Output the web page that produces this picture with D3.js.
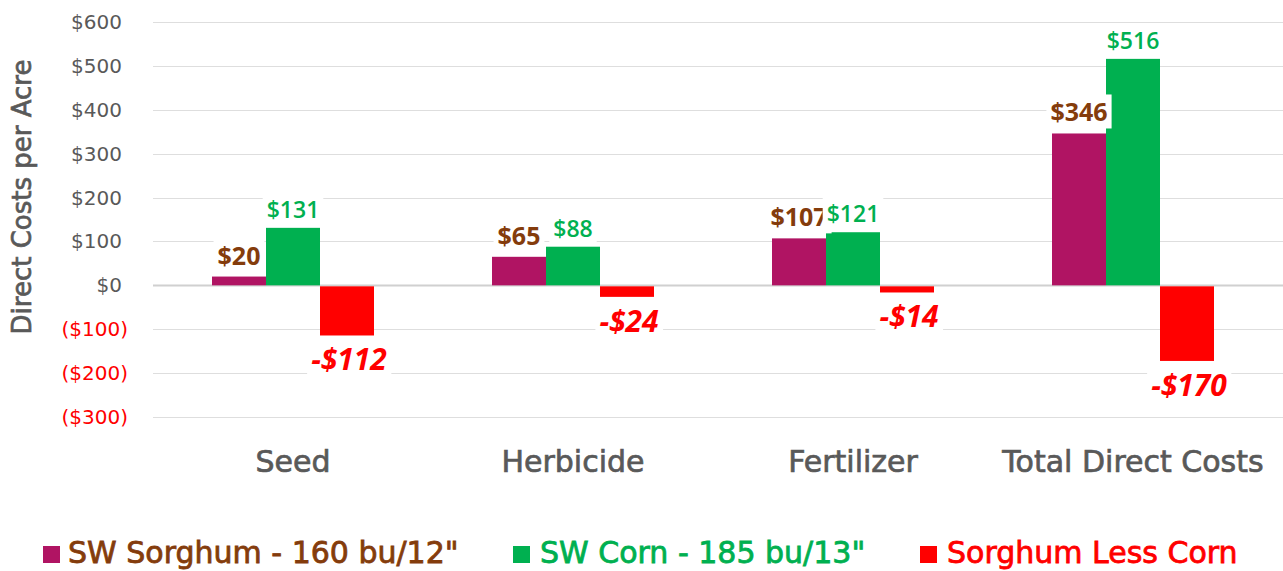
<!DOCTYPE html>
<html>
<head>
<meta charset="utf-8">
<script src="https://cdn.jsdelivr.net/npm/d3@7"></script>
<style>
  body { margin: 0; background: #fff; }
  svg { display: block; }
</style>
</head>
<body>
<svg id="chart" width="1283" height="571"></svg>
<script>
const categories = ["Seed", "Herbicide", "Fertilizer", "Total Direct Costs"];
const seriesNames = ["SW Sorghum - 160 bu/12\"", "SW Corn - 185 bu/13\"", "Sorghum Less Corn"];
const sorghum = [20, 65, 107, 346];
const corn = [131, 88, 121, 516];
const diff = [-112, -24, -14, -170];
const yTicks = [-300, -200, -100, 0, 100, 200, 300, 400, 500, 600];

const barColors = ["#B01463", "#00B050", "#FF0000"];
const labelColors = ["#843C0C", "#00B050", "#FF0000"];

const svg = d3.select("#chart");
const width = +svg.attr("width");

const y = d3.scaleLinear().domain([-300, 600]).range([417, 22]);
const x0 = d3.scaleBand().domain(categories).range([153, 1273]);
const gap = 59;
const x1 = d3.scaleBand().domain(d3.range(3)).range([gap, x0.bandwidth() - gap]);

// gridlines
svg.append("g")
  .selectAll("line")
  .data(yTicks)
  .join("line")
  .attr("x1", 153).attr("x2", width)
  .attr("y1", d => Math.round(y(d)) + 0.5).attr("y2", d => Math.round(y(d)) + 0.5)
  .attr("stroke", d => d === 0 ? "#d0d0d0" : "#dedede")
  .attr("stroke-width", d => d === 0 ? 2 : 1);

// y tick labels
svg.append("g")
  .selectAll("text")
  .data(yTicks)
  .join("text")
  .attr("x", d => d < 0 ? 128 : 122)
  .attr("y", d => y(d))
  .attr("dy", "0.35em")
  .attr("text-anchor", "end")
  .attr("font-family", "DejaVu Sans, sans-serif")
  .attr("font-size", 20)
  .attr("fill", d => d < 0 ? "#FF0000" : "#595959")
  .text(d => d < 0 ? `($${-d})` : `$${d}`);

// y axis title
svg.append("text")
  .attr("transform", `translate(31,197) rotate(-90)`)
  .attr("text-anchor", "middle")
  .attr("font-family", "DejaVu Sans, sans-serif")
  .attr("font-size", 26)
  .attr("fill", "#595959")
  .attr("stroke", "#595959")
  .attr("stroke-width", 0.7)
  .text("Direct Costs per Acre");

// bars
const rows = categories.map((c, i) => ({ cat: c, vals: [sorghum[i], corn[i], diff[i]] }));
const groups = svg.append("g")
  .selectAll("g")
  .data(rows)
  .join("g")
  .attr("transform", d => `translate(${x0(d.cat)},0)`);

groups.selectAll("rect")
  .data(d => d.vals.map((v, k) => ({ v, k })))
  .join("rect")
  .attr("x", d => x1(d.k))
  .attr("width", x1.bandwidth())
  .attr("y", d => d.v >= 0 ? y(d.v) : y(0) + 1)
  .attr("height", d => Math.abs(y(d.v) - y(0)))
  .attr("fill", d => barColors[d.k]);

// data labels with white boxes
const labelSize = [25, 23, 30];
const labelWeight = [700, 600, 700];
const labelLayer = svg.append("g");
[0, 1, 2].forEach(k => {
  rows.forEach(r => {
    const v = r.vals[k];
    const cx = x0(r.cat) + x1(k) + x1.bandwidth() / 2;
    const neg = v < 0;
    const g = labelLayer.append("g");
    const t = g.append("text")
      .attr("x", neg ? cx + 2 : cx)
      .attr("y", neg ? y(v) + 36 : y(v) - (k === 0 ? 12 : 10))
      .attr("text-anchor", "middle")
      .attr("font-family", "Open Sans, sans-serif")
      .attr("font-weight", labelWeight[k])
      .attr("font-style", neg ? "italic" : "normal")
      .attr("font-size", labelSize[k])
      .attr("fill", labelColors[k])
      .text(neg ? `-$${-v}` : `$${v}`);
    const bb = t.node().getBBox();
    g.insert("rect", "text")
      .attr("x", bb.x - 4).attr("y", bb.y)
      .attr("width", bb.width + 8).attr("height", bb.height)
      .attr("fill", "#fff");
  });
});

// category labels
svg.append("g")
  .selectAll("text")
  .data(categories)
  .join("text")
  .attr("x", d => x0(d) + x0.bandwidth() / 2)
  .attr("y", 472)
  .attr("text-anchor", "middle")
  .attr("font-family", "DejaVu Sans, sans-serif")
  .attr("font-size", 30)
  .attr("fill", "#595959")
  .attr("stroke", "#595959")
  .attr("stroke-width", 0.7)
  .text(d => d);

// legend
const legendX = [43, 513, 920];
const legendTextX = [68, 540, 947];
const legend = svg.append("g")
  .selectAll("g")
  .data(seriesNames)
  .join("g")
  .attr("transform", (d, i) => `translate(${legendX[i]},546)`);
legend.append("rect")
  .attr("width", 17).attr("height", 17)
  .attr("fill", (d, i) => barColors[i]);
legend.append("text")
  .attr("x", (d, i) => legendTextX[i] - legendX[i])
  .attr("y", 17)
  .attr("font-family", "DejaVu Sans, sans-serif")
  .attr("font-size", 30)
  .attr("fill", (d, i) => labelColors[i])
  .attr("stroke", (d, i) => labelColors[i])
  .attr("stroke-width", 0.8)
  .text(d => d);
</script>
</body>
</html>
